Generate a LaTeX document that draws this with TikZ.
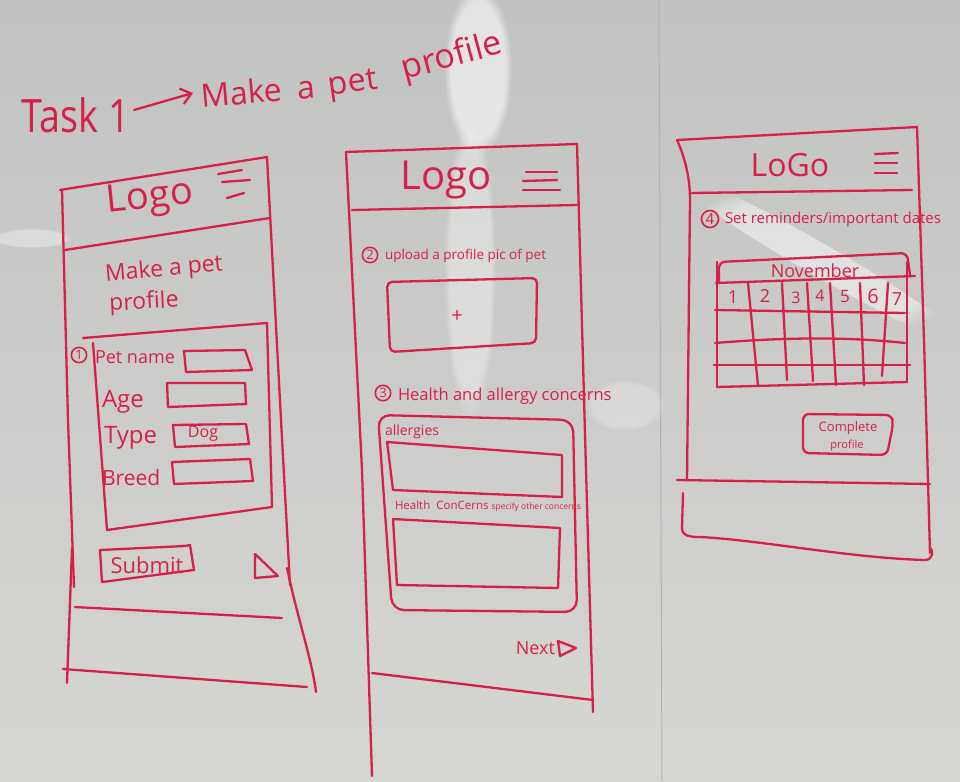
\documentclass[tikz,border=0pt]{standalone}
\usepackage{fontspec}
\setmainfont{Open Sans}
\usetikzlibrary{arrows.meta,fadings}
\definecolor{mk}{RGB}{214,32,74}
\definecolor{bgtop}{RGB}{193,195,194}
\definecolor{bgbot}{RGB}{214,214,210}
\newcommand\hsz[1]{\fontsize{#1}{#1}\selectfont}
\begin{document}
\begin{tikzpicture}[x=1pt,y=-1pt,
  ink/.style={draw=mk, line width=2.3pt, line cap=round, line join=round},
  hand/.style={text=mk, inner sep=0pt, outer sep=2pt},
  numc/.style={draw=mk, line width=1.6pt, circle, inner sep=1.2pt, text=mk, font=\hsz{13}},
  glare/.style={fill=white, path fading=circle with fuzzy edge 20 percent}]
% background
\shade[top color=bgtop, bottom color=bgbot] (0,0) rectangle (960,781);
\useasboundingbox (0,0) rectangle (960,781);
\draw[gray!60, line width=1pt] (659,0) -- (662,781);
% glare
\fill[glare, opacity=0.55] (478,70) ellipse (34 and 85);
\fill[glare, opacity=0.35] (470,270) ellipse (26 and 150);
\fill[glare, opacity=0.35] (32,238) ellipse (40 and 10);
\fill[glare, opacity=0.45, rotate around={-30:(820,260)}] (820,260) ellipse (170 and 16);
\fill[glare, opacity=0.25] (625,405) ellipse (40 and 26);

% ---------------- title
\node[hand, font=\hsz{46}, anchor=base west, xscale=0.82] (task) at (20,132) {Task 1};
\node[hand, font=\hsz{32}, anchor=base west, rotate=5] (tmake) at (200,108) {Make};
\node[hand, font=\hsz{32}, anchor=base west, rotate=5] (ta) at (296,100) {a};
\node[hand, font=\hsz{32}, anchor=base west, rotate=8] (tpet) at (328,96) {pet};
\node[hand, font=\hsz{34}, anchor=base west, rotate=15] (tprof) at (403,80) {profile};
\coordinate (arrS) at (134,110);
\coordinate (arrE) at (193,93);
\draw[ink, -{Straight Barb[length=10pt,width=16pt]}] (arrS) -- (arrE);

% ---------------- panel 1
\draw[ink] (60,190) -- (267,157) -- (281,420) -- (290,585);
\draw[ink] (287,568) .. controls (298,620) and (312,660) .. (316,692);
\draw[ink] (62,190) -- (68,420) -- (74,587);
\draw[ink] (72,548) -- (67,683);
\draw[ink] (65,250) -- (270,218);
\draw[ink] (75,607) -- (282,618);
\draw[ink] (63,669) -- (307,687);
\node[hand, font=\hsz{38}, rotate=6] (logo1) at (150,199) {Logo};
\draw[ink] (218,174) -- (242,170);
\draw[ink] (222,182) -- (250,180);
\draw[ink] (227,198) -- (244,193);
\node[hand, font=\hsz{23}, rotate=5] (mk1) at (164,270) {Make a pet};
\node[hand, font=\hsz{23}, rotate=3] (pf1) at (144,303) {profile};
\draw[ink] (83,338) -- (267,323) -- (272,507) -- (107,530) -- (93,343);
\node[numc] (n1) at (79,355) {1};
\node[hand, font=\hsz{18}, anchor=west] (petname) at (93,357) {Pet name};
\draw[ink] (184,351) -- (245,350) -- (252,370) -- (186,372) -- cycle;
\node[hand, font=\hsz{24}, anchor=west] (age) at (100,402) {Age};
\draw[ink] (167,383) -- (245,383) -- (246,404) -- (168,407) -- cycle;
\node[hand, font=\hsz{24}, anchor=west] (type) at (102,438) {Type};
\draw[ink] (173,425) -- (246,424) -- (249,444) -- (175,447) -- cycle;
\node[hand, font=\hsz{16}] (dog) at (203,434) {Dog};
\node[hand, font=\hsz{21}, anchor=west] (breed) at (100,478) {Breed};
\draw[ink] (172,462) -- (250,459) -- (253,481) -- (174,484) -- cycle;
\draw[ink] (100,550) -- (185,546) -- (190,545) -- (194,570) -- (102,582) -- cycle;
\node[hand, font=\hsz{22}] (submit) at (147,565) {Submit};
\draw[ink] (255,554) -- (278,576) -- (255,578) -- cycle;

% ---------------- panel 2
\draw[ink] (346,152) -- (577,144) -- (586,470) -- (593,712);
\draw[ink] (346,152) -- (362,470) -- (372,776);
\draw[ink] (352,210) -- (577,205);
\node[hand, font=\hsz{40}] (logo2) at (446,180) {Logo};
\draw[ink] (526,172) -- (557,172);
\draw[ink] (523,181) -- (557,180);
\draw[ink] (523,190) -- (560,190);
\node[numc] (n2) at (370,255) {2};
\node[hand, font=\hsz{13.5}, anchor=west] (upload) at (383,256) {upload a profile pic of pet};
\draw[ink, rounded corners=5] (387,282) -- (537,278) -- (536,343) -- (390,352) -- cycle;
\node[hand, font=\hsz{20}] (plus) at (457,317) {+};
\node[numc] (n3) at (383,393) {3};
\node[hand, font=\hsz{16.5}, anchor=west] (health) at (396,396) {Health and allergy concerns};
\draw[ink, rounded corners=12] (378,415) -- (573,420) -- (577,612) -- (392,610) -- cycle;
\node[hand, font=\hsz{14}, anchor=west] (allerg) at (383,432) {allergies};
\draw[ink] (387,442) -- (562,455) -- (562,497) -- (393,490) -- cycle;
\node[hand, font=\hsz{11.5}, anchor=west] (hconc) at (393,506) {Health\ \ ConCerns {\hsz{8.5}specify other concerns}};
\draw[ink] (393,519) -- (560,528) -- (558,588) -- (397,585) -- cycle;
\node[hand, font=\hsz{18}, anchor=east] (next) at (557,648) {Next};
\draw[ink] (558,641) -- (576,648) -- (560,656) -- cycle;
\draw[ink] (372,673) -- (593,700);

% ---------------- panel 3
\draw[ink] (677,140) -- (917,127) -- (924,340) -- (930,553);
\draw[ink] (677,140) .. controls (686,160) and (690,180) .. (690,200) -- (687,480);
\draw[ink] (683,493) -- (682,528) .. controls (682,536) and (690,537) .. (700,537)
  .. controls (760,540) and (850,558) .. (925,560) .. controls (933,560) and (934,550) .. (930,548);
\draw[ink] (692,193) -- (912,190);
\node[hand, font=\hsz{32}] (logo3) at (790,165) {LoGo};
\draw[ink] (875,154) -- (898,153);
\draw[ink] (875,163) -- (897,163);
\draw[ink] (875,173) -- (897,173);
\node[numc, font=\hsz{15}] (n4) at (710,219) {4};
\node[hand, font=\hsz{15}, anchor=west] (remind) at (723,220) {Set reminders/important dates};
% calendar
\draw[ink, rounded corners=6] (719,283) -- (719,262) -- (907,253) -- (910,275);
\node[hand, font=\hsz{18}] (nov) at (815,271) {November};
\draw[ink] (716,283) -- (915,276);
\draw[ink] (715,310) -- (905,313);
\draw[ink] (715,343) .. controls (800,336) and (860,338) .. (905,343);
\draw[ink] (714,365) -- (910,365);
\draw[ink] (717,387) -- (907,382);
\draw[ink] (717,262) -- (717,387);
\draw[ink] (907,262) -- (907,382);
\draw[ink] (748,283) -- (758,386);
\draw[ink] (782,283) -- (787,380);
\draw[ink] (807,283) -- (813,381);
\draw[ink] (830,283) -- (836,385);
\draw[ink] (860,283) -- (864,385);
\draw[ink] (888,283) -- (882,376);
\node[hand, font=\hsz{18}] (d1) at (733,297) {1};
\node[hand, font=\hsz{18}] (d2) at (765,296) {2};
\node[hand, font=\hsz{16}] (d3) at (796,298) {3};
\node[hand, font=\hsz{16}] (d4) at (820,296) {4};
\node[hand, font=\hsz{17}] (d5) at (845,297) {5};
\node[hand, font=\hsz{20}] (d6) at (873,296) {6};
\node[hand, font=\hsz{18}] (d7) at (897,299) {7};
\draw[ink, rounded corners=6] (803,414) -- (892,415) -- (893,425) -- (887,455) -- (803,453) -- cycle;
\node[hand, font=\hsz{13}] (comp) at (848,428) {Complete};
\node[hand, font=\hsz{11}] (prof) at (847,446) {profile};
\draw[ink] (677,480) -- (930,484);
\end{tikzpicture}
\end{document}
